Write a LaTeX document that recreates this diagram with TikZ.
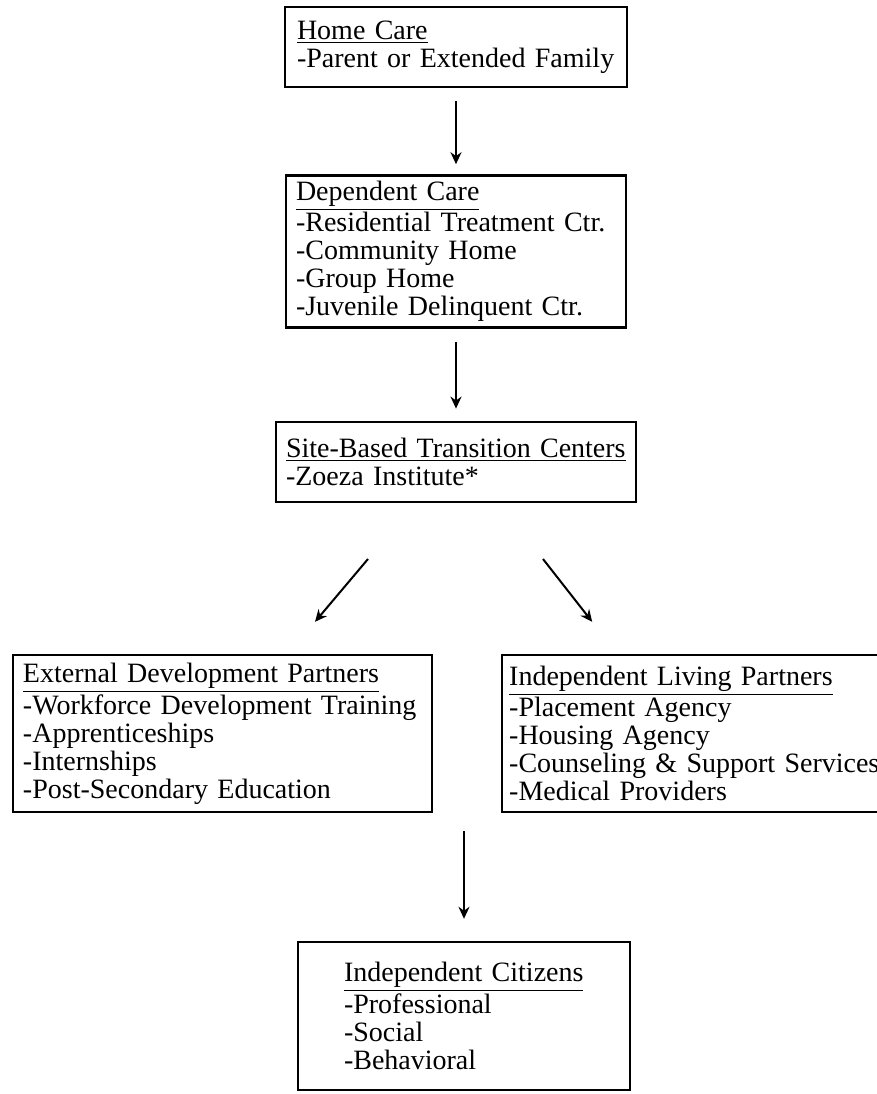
\documentclass[tikz,border=0pt]{standalone}
\usepackage{fontspec}
\setmainfont{Liberation Serif}
\usetikzlibrary{positioning, arrows.meta, calc}
\newcommand{\boxfont}{\fontsize{14}{14}\selectfont}

\begin{document}
\begin{tikzpicture}[
    x=0.5pt, y=-0.5pt,
    box/.style={rectangle, draw, line width=1.2pt, align=left, font=\boxfont, inner ysep=0pt},
    arr/.style={-{Stealth[length=6pt, width=5.5pt]}, line width=1pt},
  ]
    \useasboundingbox (0,0) rectangle (877,1094);
    \clip (0,0) rectangle (877,1094);

    \node[box, text width=159pt, inner xsep=6pt, minimum height=40pt] (home) at (456,47) {\underline{Home Care}\\-Parent or Extended Family};
    \node[box, below=43pt of home, text width=160pt, inner xsep=5pt, minimum height=76pt] (dep) {\underline{Dependent Care}\\-Residential Treatment Ctr.\\-Community Home\\-Group Home\\-Juvenile Delinquent Ctr.};
    \node[box, below=46pt of dep, text width=170pt, inner xsep=5pt, minimum height=40pt] (site) {\underline{Site-Based Transition Centers}\\-Zoeza Institute*};

    \node[box, text width=199.5pt, inner xsep=5pt, minimum height=78.5pt] (ext) at (222.5,733.5) {\underline{External Development Partners}\\-Workforce Development Training\\-Apprenticeships\\-Internships\\-Post-Secondary Education};
    \node[box, anchor=west, text width=186pt, inner xsep=3.5pt, minimum height=78.5pt] (ind) at (501,733.5) {\underline{Independent Living Partners}\\-Placement Agency\\-Housing Agency\\-Counseling \& Support Services\\-Medical Providers};

    \node[box, text width=120pt, inner xsep=23pt, minimum height=74pt] (cit) at (464,1016) {\underline{Independent Citizens}\\-Professional\\-Social\\-Behavioral};

    \draw[arr, shorten <=6.5pt, shorten >=5pt] (home) -- (dep);
    \draw[arr, shorten <=6.5pt, shorten >=6pt] (dep) -- (site);
    \draw[arr] ($(site.south)+(-88,56)$) -- ($(ext.north)+(92.5,-32)$);
    \draw[arr] ($(site.south)+(87,56)$) -- ($(ind.north)+(-103,-32)$);
    \draw[arr, shorten <=9pt, shorten >=11pt] (cit.north |- ext.south) -- (cit.north);
  \end{tikzpicture}
\end{document}
